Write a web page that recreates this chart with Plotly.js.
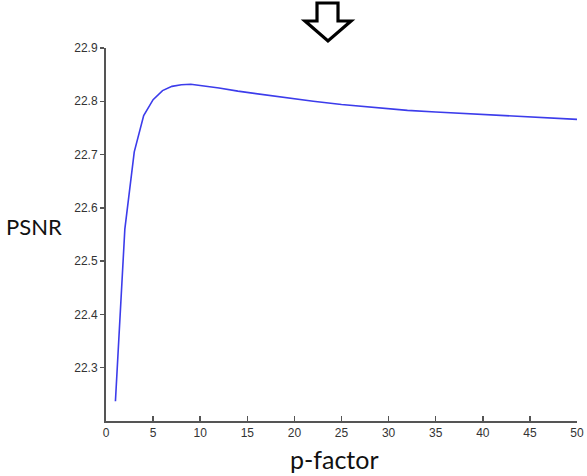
<!DOCTYPE html>
<html>
<head>
<meta charset="utf-8">
<script src="https://cdn.plot.ly/plotly-3.0.1.min.js"></script>
<style>html,body{margin:0;padding:0;background:#fff;}#chart{width:587px;height:476px;}</style>
</head>
<body>
<div id="chart"></div>
<script>
// p-factor values (x) and PSNR values (y)
var pFactor = [1, 2, 3, 4, 5, 6, 7, 8, 9, 10, 12, 14, 16, 18, 20, 22, 25, 28, 30, 32, 35, 38, 40, 42, 45, 48, 50];
var psnr = [22.237, 22.56, 22.705, 22.773, 22.803, 22.820, 22.828, 22.831, 22.832, 22.830,
            22.825, 22.819, 22.814, 22.809, 22.804, 22.800, 22.794, 22.789, 22.786, 22.783,
            22.780, 22.777, 22.775, 22.773, 22.771, 22.768, 22.766];
var xTicks = [0, 5, 10, 15, 20, 25, 30, 35, 40, 45, 50];
var yTicks = [22.3, 22.4, 22.5, 22.6, 22.7, 22.8, 22.9];
var yTickText = ['22.3', '22.4', '22.5', '22.6', '22.7', '22.8', '22.9'];

var trace = {
  x: pFactor, y: psnr, type: 'scatter', mode: 'lines',
  line: {color: 'rgb(60,60,235)', width: 1.6},
  hoverinfo: 'skip'
};

var tickFont = {family: 'Liberation Sans, Arial, sans-serif', size: 12, color: '#333'};

var layout = {
  width: 587, height: 476,
  margin: {l: 106, r: 10, t: 48, b: 55},
  paper_bgcolor: '#fff', plot_bgcolor: '#fff',
  showlegend: false,
  xaxis: {
    range: [0, 50], tickvals: xTicks, ticktext: xTicks.map(String),
    showgrid: false, zeroline: false,
    showline: true, linecolor: '#555', linewidth: 2,
    ticks: 'inside', ticklen: 5, tickcolor: '#555', tickwidth: 1.5,
    tickfont: tickFont
  },
  yaxis: {
    range: [22.2, 22.9], tickvals: yTicks, ticktext: yTickText,
    showgrid: false, zeroline: false,
    showline: true, linecolor: '#555', linewidth: 2,
    ticks: 'outside', ticklen: 4, tickcolor: '#555', tickwidth: 1.5,
    tickfont: tickFont
  },
  annotations: [
    {text: 'PSNR', xref: 'paper', yref: 'paper', x: -0.152, y: 0.522,
     xanchor: 'center', yanchor: 'middle', showarrow: false,
     font: {family: 'Lato, sans-serif', size: 22, color: '#111'}},
    {text: 'p-factor', xref: 'paper', yref: 'paper', x: 0.485, y: -0.102,
     xanchor: 'center', yanchor: 'middle', showarrow: false,
     font: {family: 'Lato, sans-serif', size: 25, color: '#111'}}
  ],
  shapes: [
    {type: 'path', xref: 'paper', yref: 'paper',
     path: 'M 0.4480 1.1206 L 0.4926 1.1206 L 0.4926 1.0724 L 0.5202 1.0724 L 0.4713 1.0188 L 0.4225 1.0724 L 0.4480 1.0724 Z',
     line: {color: '#000', width: 3.2}, fillcolor: 'rgba(0,0,0,0)'}
  ]
};

Plotly.newPlot('chart', [trace], layout, {displayModeBar: false, staticPlot: true});
</script>
</body>
</html>
